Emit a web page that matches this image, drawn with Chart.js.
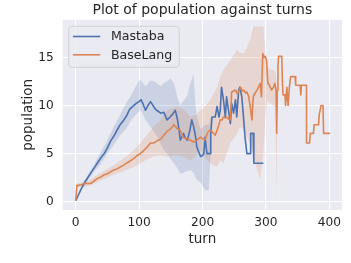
<!DOCTYPE html>
<html>
<head>
<meta charset="utf-8">
<script src="https://cdn.jsdelivr.net/npm/chart.js"></script>
<style>
  html, body { margin: 0; padding: 0; background: #ffffff; }
  #chart { display: block; }
</style>
</head>
<body>
<canvas id="chart" width="351" height="263"></canvas>
<script>
// values
const xTicks = [0, 100, 200, 300, 400];
const yTicks = [0, 5, 10, 15];

const mastabaTurns = [0, 5, 10, 15, 20, 25, 30, 35, 40, 45, 50, 55, 60, 65, 70, 75, 80, 85, 90, 95, 100, 103, 106, 110, 114, 118, 122, 126, 130, 134, 139, 144, 149, 153, 157, 160, 163, 165, 168, 170, 173, 176, 180, 183, 186, 189, 191, 194, 197, 200, 202, 204, 207, 210, 212, 213, 215, 218, 220, 223, 226, 228, 230, 233, 236, 238, 241, 244, 246, 249, 252, 254, 257, 259, 262, 265, 267, 270, 275, 276, 280, 281, 296];
const mastabaPop = [0.1, 0.8, 1.5, 2.1, 2.6, 3.1, 3.6, 4.1, 4.6, 5.0, 5.6, 6.3, 6.8, 7.4, 8.0, 8.4, 8.9, 9.6, 9.9, 10.2, 10.4, 10.6, 10.2, 9.5, 10.0, 10.4, 10.0, 9.6, 9.4, 9.2, 9.3, 8.5, 8.8, 9.1, 9.5, 8.7, 7.5, 6.4, 6.8, 7.1, 6.6, 6.4, 7.4, 8.5, 7.8, 6.8, 5.7, 5.2, 4.7, 4.8, 5.0, 6.7, 5.0, 5.0, 5.0, 7.0, 8.8, 8.8, 8.8, 9.9, 8.8, 9.5, 11.9, 10.6, 8.8, 10.9, 9.5, 8.1, 10.2, 9.2, 10.6, 8.8, 11.6, 11.9, 10.9, 8.5, 6.7, 5.0, 5.0, 7.1, 7.1, 4.0, 4.0];

const mastabaBandTurns = [0, 10, 20, 30, 40, 50, 60, 70, 80, 86, 90, 95, 100, 103, 110, 118, 125, 128, 134, 139, 144, 149, 155, 160, 165, 170, 176, 181, 186, 189, 191, 197, 204, 210, 213, 215];
const mastabaUpper = [0.1, 1.7, 2.9, 4.0, 5.2, 6.4, 7.8, 9.0, 10.3, 10.9, 11.4, 12.0, 12.6, 12.6, 12.0, 12.6, 12.5, 12.3, 12.0, 12.3, 12.5, 12.8, 12.3, 10.9, 10.0, 10.5, 11.0, 12.3, 13.3, 9.9, 8.8, 7.5, 8.0, 8.0, 8.8, 8.8];
const mastabaLower = [0.1, 1.3, 2.3, 3.2, 4.0, 5.0, 5.9, 6.9, 7.6, 8.3, 8.7, 9.0, 9.4, 9.5, 8.5, 7.8, 7.1, 6.8, 6.0, 5.4, 5.0, 4.5, 4.0, 3.5, 2.9, 3.0, 3.2, 3.3, 3.0, 2.5, 2.3, 2.0, 1.2, 1.2, 5.4, 8.8];

const baseTurns = [0, 2, 5, 10, 13, 20, 24, 28, 34, 40, 45, 50, 55, 60, 65, 70, 76, 80, 85, 92, 97, 102, 107, 113, 118, 123, 128, 134, 139, 144, 150, 155, 160, 165, 170, 175, 181, 186, 191, 197, 201, 204, 207, 210, 215, 220, 225, 228, 231, 233, 236, 238, 241, 244, 246, 249, 252, 255, 257, 260, 263, 265, 268, 270, 273, 276, 278, 280, 283, 286, 289, 291, 293, 295, 297, 299, 301, 303, 304, 309, 312, 314, 316, 317, 318, 319, 320, 325, 326, 327, 330, 331, 333, 335, 337, 339, 346, 347, 354, 355, 356, 364, 364, 369, 370, 375, 376, 383, 384, 387, 390, 391, 401];
const basePop = [0.1, 1.7, 1.7, 1.8, 1.9, 1.9, 1.9, 2.1, 2.4, 2.6, 2.8, 2.9, 3.1, 3.3, 3.4, 3.6, 3.8, 4.0, 4.2, 4.5, 4.8, 5.0, 5.3, 5.7, 6.1, 6.1, 6.3, 6.5, 6.9, 7.3, 7.6, 8.0, 7.6, 7.4, 6.7, 6.5, 6.4, 6.2, 6.4, 6.7, 6.5, 6.4, 7.0, 7.4, 7.3, 6.9, 7.8, 8.5, 8.5, 8.8, 8.7, 8.8, 8.6, 8.5, 11.4, 11.5, 11.6, 11.2, 11.4, 11.9, 11.5, 11.6, 11.3, 11.4, 10.9, 9.5, 8.5, 10.9, 11.3, 11.6, 12.0, 12.3, 10.9, 15.4, 15.0, 15.1, 14.7, 12.3, 12.3, 11.6, 11.9, 12.3, 11.6, 7.1, 11.6, 14.0, 15.1, 15.1, 12.5, 11.1, 11.1, 10.0, 11.9, 10.0, 11.9, 13.0, 13.0, 12.1, 12.1, 11.1, 12.1, 12.1, 6.1, 6.1, 7.1, 7.1, 8.0, 8.0, 9.0, 10.0, 10.0, 7.1, 7.1];

const baseBandTurns = [0, 2, 20, 40, 60, 80, 92, 102, 113, 123, 134, 144, 160, 170, 181, 190, 197, 205, 212, 223, 228, 233, 244, 254, 259, 265, 270, 275, 280, 286, 291, 296, 299, 302, 307, 312, 315, 317, 318];
const baseUpper = [0.1, 1.9, 2.2, 3.0, 3.8, 4.7, 5.4, 6.1, 7.0, 7.8, 8.5, 9.5, 9.9, 9.6, 8.8, 9.0, 9.5, 10.0, 10.6, 11.9, 13.0, 13.7, 14.7, 15.8, 15.5, 15.4, 16.0, 16.8, 18.2, 18.2, 18.2, 18.2, 15.4, 14.0, 13.7, 13.7, 13.5, 12.0, 11.6];
const baseLower = [0.1, 1.5, 1.6, 2.2, 2.8, 3.3, 3.6, 4.0, 4.4, 4.7, 4.8, 4.7, 4.8, 4.7, 4.3, 4.8, 5.4, 4.5, 4.0, 3.6, 4.3, 4.0, 6.1, 7.0, 7.8, 7.5, 6.7, 6.0, 5.0, 3.3, 2.3, 5.0, 8.5, 10.5, 10.2, 10.0, 9.8, 0.0, 11.6];

const BLUE = '#4C72B0';
const ORANGE = '#DD8452';
const FONT = 'DejaVu Sans';
const TEXT = '#262626';

const pts = (xs, ys) => xs.map((x, i) => ({ x: x, y: ys[i] }));

const bandStyle = (color) => ({
  borderWidth: 0,
  pointRadius: 0,
  backgroundColor: color,
  tension: 0
});

const lineStyle = (color) => ({
  borderColor: color,
  borderWidth: 1.6,
  pointRadius: 0,
  fill: false,
  tension: 0,
  borderJoinStyle: 'round'
});

const plotBg = {
  id: 'plotBg',
  beforeDraw(chart) {
    const a = chart.chartArea;
    const ctx = chart.ctx;
    ctx.save();
    ctx.fillStyle = '#EAEAF2';
    ctx.fillRect(a.left, a.top, a.right - a.left, a.bottom - a.top);
    ctx.restore();
  }
};

const legendBox = {
  id: 'legendBox',
  afterDatasetsDraw(chart) {
    const a = chart.chartArea;
    const ctx = chart.ctx;
    const left = a.left + 6, top = a.top + 6.5, w = 110.5, h = 41, r = 3;
    ctx.save();
    ctx.beginPath();
    ctx.moveTo(left + r, top);
    ctx.arcTo(left + w, top, left + w, top + h, r);
    ctx.arcTo(left + w, top + h, left, top + h, r);
    ctx.arcTo(left, top + h, left, top, r);
    ctx.arcTo(left, top, left + w, top, r);
    ctx.closePath();
    ctx.fillStyle = 'rgba(234,234,242,0.8)';
    ctx.fill();
    ctx.strokeStyle = 'rgba(204,204,204,0.8)';
    ctx.lineWidth = 1;
    ctx.stroke();
    const items = chart.data.datasets.filter(d => d.legend);
    items.forEach((d, i) => {
      const y = top + 10.2 + i * 18.3;
      ctx.strokeStyle = d.borderColor;
      ctx.lineWidth = 1.6;
      ctx.beginPath();
      ctx.moveTo(left + 4.2, y);
      ctx.lineTo(left + 31.5, y);
      ctx.stroke();
      ctx.fillStyle = TEXT;
      ctx.font = '12.6px "' + FONT + '"';
      ctx.textBaseline = 'middle';
      ctx.textAlign = 'left';
      ctx.fillText(d.label, left + 42.2, y + 0.5);
    });
    ctx.restore();
  }
};

new Chart(document.getElementById('chart'), {
  type: 'line',
  data: {
    datasets: [
      Object.assign({ label: 'Mastaba upper', data: pts(mastabaBandTurns, mastabaUpper), fill: '+1', order: 5 }, bandStyle('rgba(76,114,176,0.2)')),
      Object.assign({ label: 'Mastaba lower', data: pts(mastabaBandTurns, mastabaLower), fill: false, order: 5 }, bandStyle('rgba(76,114,176,0.2)')),
      Object.assign({ label: 'BaseLang upper', data: pts(baseBandTurns, baseUpper), fill: '+1', order: 4 }, bandStyle('rgba(221,132,82,0.2)')),
      Object.assign({ label: 'BaseLang lower', data: pts(baseBandTurns, baseLower), fill: false, order: 4 }, bandStyle('rgba(221,132,82,0.2)')),
      Object.assign({ label: 'Mastaba', legend: true, data: pts(mastabaTurns, mastabaPop), order: 2 }, lineStyle(BLUE)),
      Object.assign({ label: 'BaseLang', legend: true, data: pts(baseTurns, basePop), order: 1 }, lineStyle(ORANGE))
    ]
  },
  options: {
    responsive: false,
    devicePixelRatio: 1,
    animation: false,
    events: [],
    layout: { padding: { left: 0, right: 9, top: 0, bottom: 0 } },
    plugins: {
      legend: { display: false },
      tooltip: { enabled: false },
      title: {
        display: true,
        fullSize: false,
        align: 'center',
        text: 'Plot of population against turns',
        color: TEXT,
        font: { family: FONT, size: 14, weight: 'normal' },
        padding: { top: 2, bottom: 1 }
      }
    },
    scales: {
      x: {
        type: 'linear',
        min: -20.5,
        max: 420,
        afterBuildTicks: (s) => { s.ticks = xTicks.map(v => ({ value: v })); },
        afterFit: (s) => { s.height = 53; },
        grid: { color: '#ffffff', lineWidth: 1, drawTicks: false },
        border: { display: false },
        ticks: { color: TEXT, font: { family: FONT, size: 12.2 }, padding: 6, maxRotation: 0 },
        title: { display: true, text: 'turn', color: TEXT, font: { family: FONT, size: 13.5 }, padding: { top: 0, bottom: 15.6 } }
      },
      y: {
        min: -0.86,
        max: 18.9,
        afterBuildTicks: (s) => { s.ticks = yTicks.map(v => ({ value: v })); },
        afterFit: (s) => { s.width = 62.7; },
        grid: { color: '#ffffff', lineWidth: 1, drawTicks: false },
        border: { display: false },
        ticks: { color: TEXT, font: { family: FONT, size: 12.2 }, padding: 9 },
        title: { display: true, text: 'population', color: TEXT, font: { family: FONT, size: 13.5 }, padding: { top: 20.2, bottom: 0 } }
      }
    }
  },
  plugins: [plotBg, legendBox]
});
</script>
</body>
</html>
